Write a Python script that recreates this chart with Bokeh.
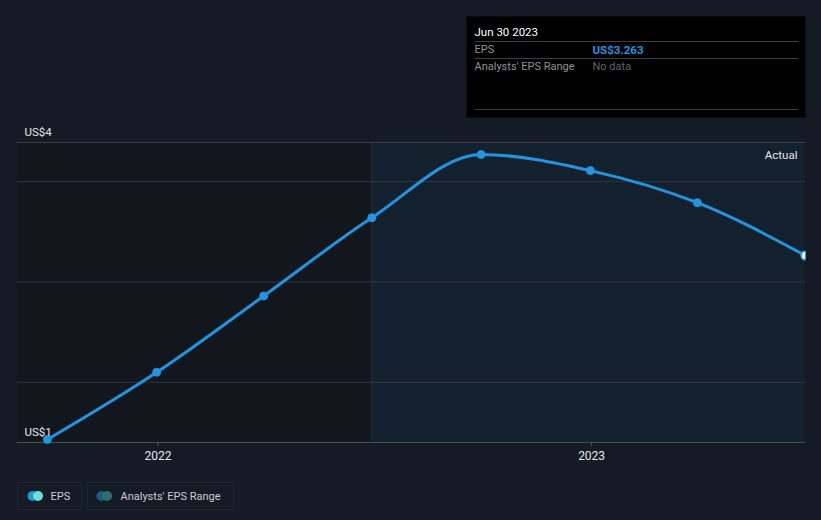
from datetime import datetime
import numpy as np
from bokeh.plotting import figure
from bokeh.models import Range1d, BoxAnnotation, Label
from bokeh.embed import file_html
from bokeh.resources import INLINE

# ---------------- data ----------------
dates = ["2021-09-30", "2021-12-31", "2022-03-31", "2022-06-30",
         "2022-09-30", "2022-12-31", "2023-03-31", "2023-06-30"]
eps = [1.43, 2.10, 2.86, 3.64, 4.27, 4.11, 3.79, 3.263]
x_ticks = ["2022-01-01", "2023-01-01"]
x_tick_labels = ["2022", "2023"]
y_grid = [2, 3, 4]
y_min, y_max = 1.40, 4.39
y_labels = ["US$1", "US$4"]
x_start_date = "2021-09-04"
actual_start = "2022-06-30"
legend_names = ["EPS", "Analysts' EPS Range"]

# ---------------- layout / styles ----------------
W, H = 821, 520
PLOT_L, PLOT_R, PLOT_T, PLOT_B = 16, 805, 142, 442   # plotting area in page pixels
FONT = "Roboto"
PAGE_BG = "#151b24"
LEFT_BG = "#12171e"
RIGHT_BG = "#13202e"
GRID = "#30363f"
TOPLINE = "#3a3f47"
AXIS = "#4a4f57"
BLUE = "#2394df"
TEXT = "#e4e6e9"


def ms(d):
    return int(np.datetime64(d, "ms").astype("int64"))


xs = [ms(d) for d in dates]
x0, x1 = ms(x_start_date), xs[-1]
dxp = (x1 - x0) / (PLOT_R - PLOT_L)       # data units per pixel
dyp = (y_max - y_min) / (PLOT_B - PLOT_T)

p = figure(width=W, height=H, output_backend="svg", toolbar_location=None,
           x_range=Range1d(x0 - PLOT_L * dxp, x1 + (W - PLOT_R) * dxp),
           y_range=Range1d(y_min - (H - PLOT_B) * dyp, y_max + PLOT_T * dyp),
           x_axis_location=None, y_axis_location=None,
           min_border=0, min_border_left=0, min_border_right=0,
           min_border_top=0, min_border_bottom=0)
p.border_fill_color = PAGE_BG
p.background_fill_color = PAGE_BG
p.outline_line_color = None
p.grid.visible = False
p.styles = {"background-color": PAGE_BG}

# history / actual regions
p.add_layout(BoxAnnotation(left=x0, right=ms(actual_start), bottom=y_min, top=y_max,
                           fill_color=LEFT_BG, fill_alpha=1, line_color=None, level="image"))
p.add_layout(BoxAnnotation(left=ms(actual_start), right=x1, bottom=y_min, top=y_max,
                           fill_color=RIGHT_BG, fill_alpha=1, line_color=None, level="image"))
p.segment(x0=[ms(actual_start)], y0=[y_min], x1=[ms(actual_start)], y1=[y_max],
          line_color="#1d2c3d", line_width=1, level="underlay")

# grid lines, top line, axis line and ticks
p.segment(x0=[x0] * len(y_grid), y0=y_grid, x1=[x1] * len(y_grid), y1=y_grid,
          line_color=GRID, line_width=1, level="underlay")
p.segment(x0=[x0], y0=[y_max], x1=[x1], y1=[y_max], line_color=TOPLINE, line_width=1,
          level="underlay")
p.segment(x0=[x0], y0=[y_min], x1=[x1], y1=[y_min], line_color=AXIS, line_width=1)
tx = [ms(t) for t in x_ticks]
p.segment(x0=tx, y0=[y_min] * len(tx), x1=tx, y1=[y_min - 4 * dyp] * len(tx),
          line_color=AXIS, line_width=1)
for xv, lab in zip(tx, x_tick_labels):
    p.add_layout(Label(x=xv, y=y_min, y_offset=-13, text=lab, text_font=FONT,
                       text_font_size="12px", text_color=TEXT, text_align="center",
                       text_baseline="middle"))

# smooth line (monotone-x cubic through the data points)
X = np.array(xs, dtype=float)
Y = np.array(eps, dtype=float)
n = len(X)
h = np.diff(X)
s = np.diff(Y) / h
t = np.zeros(n)
for i in range(1, n - 1):
    h0, h1 = h[i - 1], h[i]
    s0, s1 = s[i - 1], s[i]
    pp = (s0 * h1 + s1 * h0) / (h0 + h1)
    t[i] = (np.sign(s0) + np.sign(s1)) * min(abs(s0), abs(s1), 0.5 * abs(pp))
t[0] = (3 * s[0] - t[1]) / 2
t[-1] = (3 * s[-1] - t[-2]) / 2
dx = h / 3
p.bezier(x0=X[:-1], y0=Y[:-1], x1=X[1:], y1=Y[1:],
         cx0=X[:-1] + dx, cy0=Y[:-1] + dx * t[:-1],
         cx1=X[1:] - dx, cy1=Y[1:] - dx * t[1:],
         line_color=BLUE, line_width=3, line_cap="round")
p.scatter(xs[:-1], eps[:-1], size=8, fill_color=BLUE, line_color=BLUE)
p.scatter(xs[-1:], eps[-1:], size=9, fill_color="#e8f4fd", line_color=BLUE, line_width=1.5)

# mask right of the plotting area (clips the last marker like the original)
p.add_layout(BoxAnnotation(left=x1, fill_color=PAGE_BG, fill_alpha=1, line_color=None,
                           level="annotation"))

# y labels at the bottom and top of the plotting area
for yv, txt in ((y_min, y_labels[0]), (y_max, y_labels[1])):
    p.add_layout(Label(x=x0, y=yv, x_offset=8, y_offset=4, text=txt,
                       text_font=FONT, text_font_size="11.5px", text_color=TEXT,
                       text_baseline="bottom"))
p.add_layout(Label(x=x1, y=y_max, x_offset=-8, y_offset=-12, text="Actual",
                   text_font=FONT, text_font_size="11.5px", text_color=TEXT,
                   text_baseline="middle", text_align="right"))


def sbox(l, r, tp, b, color, line=None):
    # page-pixel box (top-left origin) converted to screen units (bottom-left origin)
    return BoxAnnotation(left=l, right=r, top=H - tp, bottom=H - b, left_units="screen",
                         right_units="screen", top_units="screen", bottom_units="screen",
                         fill_color=color, fill_alpha=1, line_color=line, level="overlay")


def slabel(x, y, txt, col, size="11px", style="normal"):
    return Label(x=x, y=H - y, x_units="screen", y_units="screen", text=txt,
                 text_font=FONT, text_font_size=size, text_color=col,
                 text_font_style=style, text_baseline="middle", level="overlay")


# tooltip
p.add_layout(sbox(466, 805, 16, 117, "#000000"))
for yy in (41, 58, 109):
    p.add_layout(sbox(474, 798, yy - 0.5, yy + 0.5, "#3b3e44"))
last_date = datetime.strptime(dates[-1], "%Y-%m-%d").strftime("%b %d %Y")
p.add_layout(slabel(474, 31, last_date, "#ffffff", "11.5px"))
p.add_layout(slabel(474, 49, "EPS", "#8e9399"))
p.add_layout(slabel(592, 49, f"US${eps[-1]:.3f}", BLUE, "11.5px", "bold"))
p.add_layout(slabel(474, 66, "Analysts' EPS Range", "#8e9399"))
p.add_layout(slabel(592, 66, "No data", "#5f6369"))

# legend
for l, r in ((17, 81), (87, 233)):
    b = sbox(l, r, 482, 509, None, "#3a3f47")
    b.border_radius = 2
    p.add_layout(b)
for cx, col in ((32, BLUE), (37.5, "#6fe0d6"), (101, "#1d5a88"), (106.5, "#2e6e6c")):
    b = sbox(cx - 5, cx + 5, 490.5, 500.5, col)
    b.border_radius = 5
    p.add_layout(b)
for x, txt in ((50, legend_names[0]), (120, legend_names[1])):
    p.add_layout(slabel(x, 495.5, txt, "#c9ccd1"))

open("out.html", "w").write(file_html(p, INLINE))
